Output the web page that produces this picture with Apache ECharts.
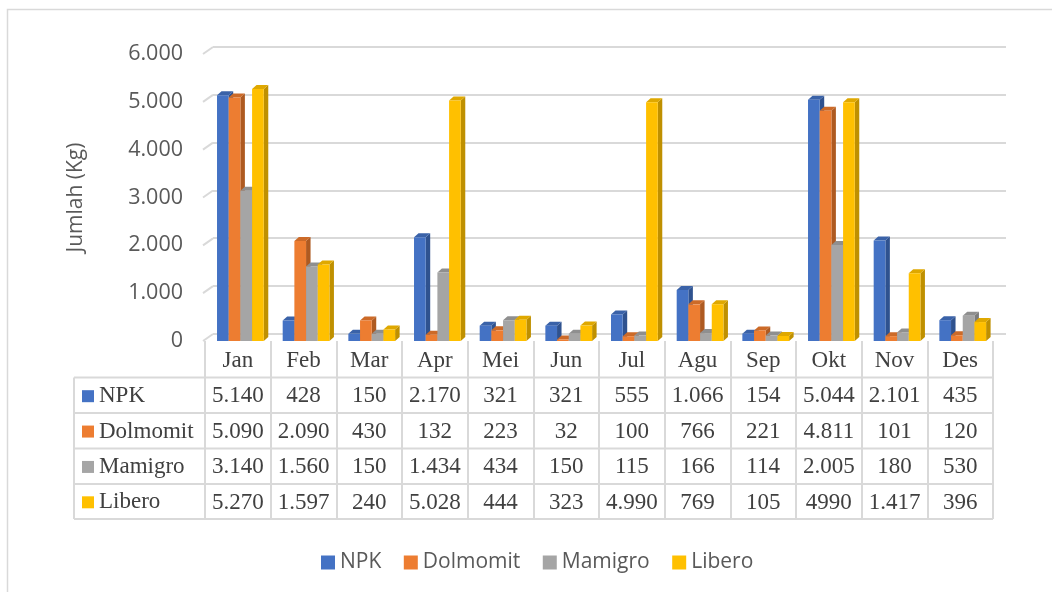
<!DOCTYPE html>
<html>
<head>
<meta charset="utf-8">
<script src="https://cdn.jsdelivr.net/npm/echarts@6/dist/echarts.min.js"></script>
<style>
  html, body { margin: 0; padding: 0; background: #fff; }
  #chart { width: 1052px; height: 592px; }
</style>
</head>
<body>
<div id="chart"></div>
<script>
// data as printed in the data table under the chart
var months = ['Jan', 'Feb', 'Mar', 'Apr', 'Mei', 'Jun', 'Jul', 'Agu', 'Sep', 'Okt', 'Nov', 'Des'];
var npkText = ['5.140', '428', '150', '2.170', '321', '321', '555', '1.066', '154', '5.044', '2.101', '435'];
var dolmomitText = ['5.090', '2.090', '430', '132', '223', '32', '100', '766', '221', '4.811', '101', '120'];
var mamigroText = ['3.140', '1.560', '150', '1.434', '434', '150', '115', '166', '114', '2.005', '180', '530'];
var liberoText = ['5.270', '1.597', '240', '5.028', '444', '323', '4.990', '769', '105', '4990', '1.417', '396'];
var yTicks = [0, 1000, 2000, 3000, 4000, 5000, 6000];

var names = ['NPK', 'Dolmomit', 'Mamigro', 'Libero'];
var rowsText = [npkText, dolmomitText, mamigroText, liberoText];
var colors = ['#4472c4', '#ed7d31', '#a5a5a5', '#ffc000'];
var sideColors = ['#2f528f', '#ae5a21', '#7b7b7b', '#bf9000'];
var topColors = ['#3a62a8', '#cc6a28', '#8f8f8f', '#dfa800'];

function toNum(s) { return Number(s.replace('.', '')); }
function fmt(v) { return String(v).replace(/\B(?=(\d{3})+(?!\d))/g, '.'); }

var myChart = echarts.init(document.getElementById('chart'));

// table layout
var tblLeft = 74, tblRight = 993;
var rowLines = [377.5, 413, 448.5, 484, 519];
var lineCol = '#d9d9d9';
var serif = 'Liberation Serif';
var tblFont = 23;

function bar3d(si) {
    return function (params, api) {
        var cat = api.value(0), v = api.value(1);
        var base = api.coord([cat, 0]);
        var top = api.coord([cat, v]);
        var band = api.size([1, 0])[0];
        var w = band * 0.178;
        var x = base[0] - band * 0.317 + si * w;
        var d = 4.5, dy = 4;
        var y0 = base[1], y1 = top[1];
        return {
            type: 'group',
            children: [{
                type: 'polygon',
                shape: {points: [[x + w, y1], [x + w + d, y1 - dy], [x + w + d, y0 - dy], [x + w, y0]]},
                style: {fill: sideColors[si]}
            }, {
                type: 'polygon',
                shape: {points: [[x, y1], [x + d, y1 - dy], [x + w + d, y1 - dy], [x + w, y1]]},
                style: {fill: topColors[si]}
            }, {
                type: 'rect',
                shape: {x: x, y: y1, width: w, height: y0 - y1},
                style: {fill: colors[si]}
            }]
        };
    };
}

var series = names.map(function (n, si) {
    return {
        name: n,
        type: 'custom',
        xAxisIndex: 1,
        yAxisIndex: 1,
        itemStyle: {color: colors[si]},
        renderItem: bar3d(si),
        encode: {x: 0, y: 1},
        z: 10 + si,
        data: rowsText[si].map(function (s, i) { return [i, toNum(s)]; })
    };
});

// slanted ticks from the labels to the back wall
series.push({
    name: 'ticks',
    type: 'custom',
    xAxisIndex: 1,
    yAxisIndex: 1,
    silent: true,
    z: 5,
    renderItem: function (params, api) {
        var p = api.coord([0, api.value(1)]);
        var band = api.size([1, 0])[0];
        var x0 = p[0] - band / 2 - 2;
        return {
            type: 'line',
            shape: {x1: x0, y1: p[1], x2: x0 + 10, y2: p[1] - 7},
            style: {stroke: lineCol, lineWidth: 2}
        };
    },
    data: yTicks.map(function (t) { return [0, t]; })
});

var rowAxes = rowsText.map(function (r, ri) {
    return {
        type: 'category',
        gridIndex: 1,
        position: 'bottom',
        data: r,
        axisLine: {show: false},
        axisTick: {show: false},
        axisLabel: {
            interval: 0,
            margin: (rowLines[ri] + rowLines[ri + 1]) / 2 - 340,
            verticalAlign: 'middle',
            color: '#404040',
            fontFamily: serif,
            fontSize: tblFont
        }
    };
});

// legend keys in the table's first column
var keyRich = {t: {fontFamily: serif, fontSize: tblFont, color: '#404040', padding: [0, 0, 0, 5]}};
colors.forEach(function (c, i) {
    keyRich['s' + i] = {width: 12, height: 12, backgroundColor: c};
});

var graphics = [{
    type: 'rect',
    shape: {x: 7.5, y: 9.5, width: 1200, height: 800},
    style: {fill: null, stroke: lineCol, lineWidth: 1.5},
    silent: true
}];
rowLines.forEach(function (y) {
    graphics.push({
        type: 'line',
        shape: {x1: tblLeft, y1: y, x2: tblRight, y2: y},
        style: {stroke: lineCol, lineWidth: 2}
    });
});
graphics.push({
    type: 'line',
    shape: {x1: tblLeft, y1: rowLines[0], x2: tblLeft, y2: rowLines[rowLines.length - 1]},
    style: {stroke: lineCol, lineWidth: 2}
});

option = {
    backgroundColor: '#fff',
    animation: false,
    grid: [
        {left: 213, right: 46, top: 46.5, bottom: 258}, // back wall
        {left: 205, right: 59, top: 54, bottom: 251},   // front plane
        {left: tblLeft, width: 205 - tblLeft, top: rowLines[0] + 1, bottom: 592 - rowLines[4] - 1} // table keys
    ],
    legend: {
        data: names,
        left: 316,
        top: 547,
        icon: 'rect',
        itemWidth: 14,
        itemHeight: 14,
        itemGap: 22.5,
        textStyle: {color: '#595959', fontFamily: 'Open Sans', fontSize: 21}
    },
    xAxis: [{
        type: 'value',
        gridIndex: 0,
        show: false
    }, {
        type: 'category',
        gridIndex: 1,
        data: months,
        axisLine: {show: false},
        axisTick: {
            show: true,
            interval: 0,
            length: 178,
            lineStyle: {color: lineCol, width: 2}
        },
        axisLabel: {
            interval: 0,
            margin: 20,
            verticalAlign: 'middle',
            color: '#404040',
            fontFamily: serif,
            fontSize: tblFont
        }
    }].concat(rowAxes).concat([{
        type: 'value',
        gridIndex: 2,
        show: false
    }]),
    yAxis: [{
        type: 'value',
        gridIndex: 0,
        min: 0,
        max: 6000,
        interval: 1000,
        axisLine: {show: false},
        axisTick: {show: false},
        axisLabel: {show: false},
        splitLine: {lineStyle: {color: lineCol, width: 2}}
    }, {
        type: 'value',
        gridIndex: 1,
        min: 0,
        max: 6000,
        interval: 1000,
        name: 'Jumlah (Kg)',
        nameLocation: 'middle',
        nameGap: 118,
        nameRotate: 90,
        nameTextStyle: {color: '#595959', fontFamily: 'Open Sans', fontSize: 21},
        axisLine: {show: false},
        axisTick: {show: false},
        splitLine: {show: false},
        axisLabel: {
            margin: 22,
            color: '#595959',
            fontFamily: 'Open Sans',
            fontSize: 21.5,
            formatter: fmt
        }
    }, {
        type: 'category',
        gridIndex: 2,
        inverse: true,
        data: names,
        axisLine: {show: false},
        axisTick: {show: false},
        axisLabel: {
            inside: true,
            margin: 8,
            align: 'left',
            interval: 0,
            formatter: function (v, i) { return '{s' + i + '|}{t|' + v + '}'; },
            rich: keyRich
        }
    }],
    graphic: graphics,
    series: series
};
myChart.setOption(option);
</script>
</body>
</html>
